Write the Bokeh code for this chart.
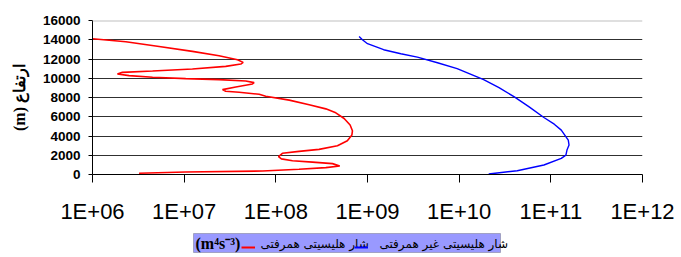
from bokeh.plotting import figure
from bokeh.layouts import column
from bokeh.models import (FixedTicker, Range1d, Legend, LegendItem, Label, Span,
                          BoxAnnotation)
from bokeh.embed import file_html
from bokeh.resources import INLINE

# convective helicity flux (red)
red_height = [124, 259, 362, 538, 713, 880, 1130, 1290, 1430, 1620, 1850, 2200,
              2400, 2610, 2990, 3510, 4110, 4540, 5140, 5820, 6410, 6820, 7240,
              7730, 8130, 8336, 8544, 8647, 8820, 9093, 9403, 9545, 9714, 9859,
              9962, 10097, 10270, 10440, 10615, 10750, 10957, 11236, 11474,
              11650, 11930, 12344, 12790, 13307, 13794, 14105]
red_flux = [3.22e6, 1.04e7, 7.16e7, 1.79e8, 3.51e8, 4.98e8, 4.15e8, 2.51e8,
            1.52e8, 1.15e8, 1.07e8, 1.18e8, 1.79e8, 2.96e8, 4.70e8, 6.03e8,
            6.76e8, 6.85e8, 6.46e8, 5.56e8, 4.51e8, 3.51e8, 2.31e8, 1.40e8,
            7.76e7, 6.58e7, 3.98e7, 2.84e7, 2.62e7, 3.66e7, 5.56e7, 5.79e7,
            4.70e7, 2.40e7, 1.04e7, 4.52e6, 2.51e6, 1.87e6, 2.12e6, 4.52e6,
            1.23e7, 2.84e7, 4.15e7, 4.40e7, 3.82e7, 2.40e7, 1.23e7, 5.33e6,
            2.31e6, 1.0e6]

# non-convective helicity flux (blue)
blue_height = [50, 395, 985, 1680, 2020, 2540, 3055, 3570, 4610, 5230, 5925,
               7020, 8060, 9030, 9860, 10995, 11615, 12200, 12550, 12965,
               13590, 14000, 14345]
blue_flux = [2.1e10, 4.3e10, 8.4e10, 1.3e11, 1.46e11, 1.5e11, 1.58e11, 1.55e11,
             1.3e11, 1.09e11, 8.4e10, 5.8e10, 4.0e10, 2.72e10, 1.85e10, 9.5e9,
             5.8e9, 3.5e9, 2.31e9, 1.5e9, 1.0e9, 8.8e8, 8.1e8]

x_ticks = [1e6, 1e7, 1e8, 1e9, 1e10, 1e11, 1e12]
x_tick_labels = ["1E+06", "1E+07", "1E+08", "1E+09", "1E+10", "1E+11", "1E+12"]
y_ticks = [0, 2000, 4000, 6000, 8000, 10000, 12000, 14000, 16000]

label_red = "شار هلیسیتی همرفتی"
label_blue = "شار هلیسیتی غیر همرفتی"
y_title = "(m) ارتفاع"
unit_text = "(m⁴s⁻³)"

p = figure(width=681, height=226, x_axis_type="log",
           x_range=Range1d(1e6, 1e12), y_range=Range1d(0, 16000),
           output_backend="svg", toolbar_location=None,
           min_border_left=92, min_border_right=39,
           min_border_top=20, min_border_bottom=51)
p.background_fill_color = "white"
p.border_fill_color = "white"
p.outline_line_color = None

# axes
p.xaxis.ticker = FixedTicker(ticks=x_ticks)
p.xaxis.major_label_overrides = {t: l for t, l in zip(x_ticks, x_tick_labels)}
p.xaxis.major_label_text_font = "Liberation Sans"
p.xaxis.major_label_text_font_size = "22px"
p.xaxis.major_label_text_color = "black"
p.xaxis.major_label_standoff = 16
p.xaxis.major_tick_out = 8
p.xaxis.major_tick_in = 0
p.xaxis.minor_tick_line_color = None
p.xaxis.axis_line_color = "black"
p.xaxis.major_tick_line_color = "black"

p.yaxis.ticker = FixedTicker(ticks=y_ticks)
p.yaxis.major_label_text_font = "Liberation Sans"
p.yaxis.major_label_text_font_style = "bold"
p.yaxis.major_label_text_font_size = "13.5px"
p.yaxis.major_label_text_color = "black"
p.yaxis.major_label_standoff = 8
p.yaxis.major_tick_out = 4
p.yaxis.major_tick_in = 0
p.yaxis.minor_tick_line_color = None
p.yaxis.axis_line_color = "black"
p.yaxis.major_tick_line_color = "black"
p.yaxis.axis_label = y_title
p.yaxis.axis_label_text_font = "Liberation Serif"
p.yaxis.axis_label_text_font_style = "bold"
p.yaxis.axis_label_text_font_size = "16px"
p.yaxis.axis_label_text_color = "black"
p.yaxis.axis_label_standoff = 12

# grid
p.xgrid.grid_line_color = None
p.ygrid.ticker = FixedTicker(ticks=y_ticks[:-1])
p.ygrid.grid_line_color = "#303030"
p.ygrid.grid_line_width = 1
p.add_layout(Span(location=y_ticks[-1], dimension="width",
                  line_color="#c0c0c0", line_width=2))

p.line(red_flux, red_height, line_color="#ff0000", line_width=1.6)
p.line(blue_flux, blue_height, line_color="#0000ff", line_width=1.4)

# legend strip below the chart (frame aligned with the chart's frame)
q = figure(width=681, height=31, x_range=Range1d(0, 1), y_range=Range1d(0, 1),
           output_backend="svg", toolbar_location=None,
           x_axis_location=None, y_axis_location=None,
           min_border_left=92, min_border_right=39,
           min_border_top=0, min_border_bottom=0)
q.outline_line_color = None
q.grid.visible = False
q.background_fill_color = "white"
q.border_fill_color = "white"

q.add_layout(BoxAnnotation(left=101, right=408, bottom=5, top=24,
                           left_units="screen", right_units="screen",
                           bottom_units="screen", top_units="screen",
                           fill_color="#9999ff", fill_alpha=1,
                           line_color="#404040", line_width=1))

# same series in the strip, lying outside its ranges: only their legend glyphs show
lr = q.line(red_flux, red_height, line_color="#ff0000", line_width=2)
lb = q.line(blue_flux, blue_height, line_color="#0000ff", line_width=2)

q.add_layout(Legend(items=[LegendItem(label=" ", renderers=[lr]),
                           LegendItem(label=" ", renderers=[lb])],
                    location=(149, 5), orientation="horizontal",
                    background_fill_alpha=0, border_line_color=None,
                    label_text_font_size="10px", label_width=0,
                    glyph_width=14, glyph_height=10, label_height=11,
                    label_standoff=0, spacing=99, padding=4, margin=0))

text_style = dict(x_units="screen", y_units="screen", text_color="black",
                  text_baseline="middle", text_align="left")
q.add_layout(Label(x=168, y=14, text=label_red, text_font="DejaVu Sans",
                   text_font_size="12px", **text_style))
q.add_layout(Label(x=287, y=14, text=label_blue, text_font="DejaVu Sans",
                   text_font_size="12px", **text_style))
q.add_layout(Label(x=103, y=14, text=unit_text, text_font="Liberation Serif",
                   text_font_style="bold", text_font_size="16px",
                   **text_style))

open("out.html", "w").write(file_html(column(p, q, spacing=0), INLINE))
